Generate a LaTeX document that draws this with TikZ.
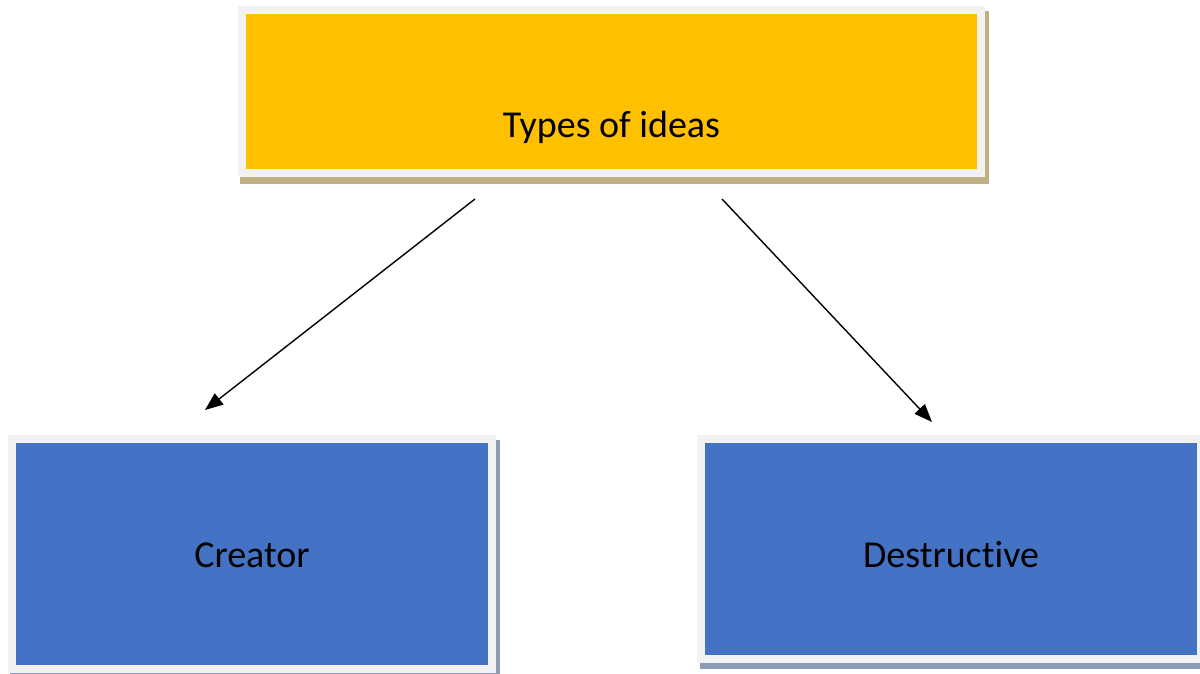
\documentclass[tikz,border=0pt]{standalone}
\usepackage{fontspec}
\setmainfont[Ligatures=NoCommon]{Carlito}
\usetikzlibrary{arrows.meta, positioning, calc}
\definecolor{framegray}{HTML}{F2F2F2}
\definecolor{ideayellow}{HTML}{FFC000}
\definecolor{ideablue}{HTML}{4472C4}
\definecolor{tanshadow}{HTML}{BFAF83}
\definecolor{blueshadow}{HTML}{8E9BB4}
\tikzset{
  ideabox/.style={
    draw=framegray,
    line width=8pt,
    rectangle,
    inner sep=0pt,
  },
  topbox/.style={
    ideabox,
    fill=ideayellow,
    minimum width=739pt,
    minimum height=163pt
  },
  kindbox/.style={
    ideabox,
    fill=ideablue
  },
  boxtext/.style={
    font=\fontsize{38}{45}\selectfont,
    text=black
  },
  arrow/.style={
    -{Triangle[length=18pt,width=14pt]},
    line width=1.4pt
  }
}

\begin{document}
\begin{tikzpicture}[x=1pt,y=1pt]
\useasboundingbox (0,0) rectangle (1200,673);

% --- Boxes (placed once for their anchors) ---
\node[topbox] (top) at (611.5,581.5) {};
\node[kindbox, minimum width=480pt, minimum height=230pt,
      below=258pt of top, xshift=-359.5pt] (creator) {};
\node[kindbox, minimum width=500pt, minimum height=220pt,
      below=258pt of top, xshift=339.5pt] (destructive) {};

% --- Shadows ---
\fill[tanshadow] ($(top.south west)+(2,-7)$) rectangle ($(top.north east)+(4,-5)$);
\fill[blueshadow] ($(creator.south west)+(2,-7)$) rectangle ($(creator.north east)+(4,-5)$);
\fill[blueshadow] ($(destructive.south west)+(3,-6)$) rectangle ($(destructive.north east)+(4,-5)$);

% --- Redraw boxes over the shadows ---
\node[topbox] at (top) {};
\node[kindbox, minimum width=480pt, minimum height=230pt] at (creator) {};
\node[kindbox, minimum width=500pt, minimum height=220pt] at (destructive) {};

% --- Labels ---
\node[boxtext] (toptext) at ([yshift=-35.5pt]top.center) {Types of ideas};
\node[boxtext] (creatortext) at ([yshift=-1pt]creator.center) {Creator};
\node[boxtext] (destructivetext) at ([yshift=-6pt]destructive.center) {Destructive};

% --- Arrows ---
\draw[arrow] ($(top.south)+(-136.5,-22)$) -- ($(creator.north)+(-47,25)$);
\draw[arrow] ($(top.south)+(110.5,-22)$) -- ($(destructive.north)+(-19,13)$);

\end{tikzpicture}
\end{document}
